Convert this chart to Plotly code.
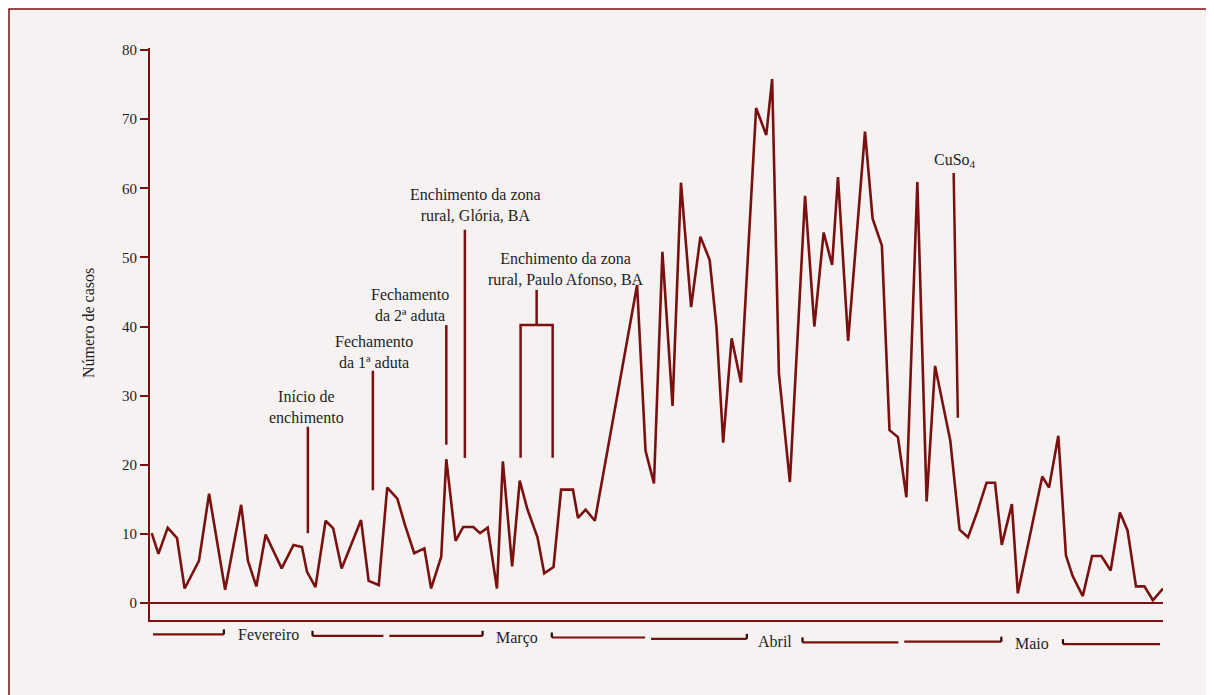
import plotly.graph_objects as go

# ---------------- data ----------------
# day counted from 1 February (0) to 31 May (120)
days = [0.2, 1.0, 2.1, 3.2, 4.1, 5.8, 7.0, 8.9, 10.8, 11.6, 12.6, 13.7, 15.6, 17.0, 18.0,
        18.6, 19.6, 20.8, 21.7, 22.7, 25.0, 25.9, 27.1, 28.1, 29.3, 30.2, 31.3, 32.5, 33.3,
        34.5, 35.1, 36.2, 37.1, 38.3, 39.1, 40.0, 41.1, 41.8, 42.9, 43.8, 44.7, 45.9, 46.7,
        47.8, 48.7, 50.1, 50.7, 51.6, 52.7, 57.7, 58.7, 59.7, 60.7, 61.9, 62.9, 64.1, 65.2,
        66.3, 67.1, 67.9, 68.9, 70.0, 71.8, 73.0, 73.7, 74.5, 75.8, 77.6, 78.7, 79.8, 80.8,
        81.5, 82.7, 84.7, 85.6, 86.7, 87.6, 88.6, 89.6, 90.9, 92.0, 93.0, 94.8, 95.9, 96.9,
        98.0, 99.1, 100.1, 100.9, 102.1, 102.8, 105.7, 106.5, 107.6, 108.5, 109.3, 110.5,
        111.6, 112.7, 113.8, 114.9, 115.8, 116.8, 117.8, 118.8, 120.0]
cases = [10.1, 7.1, 10.9, 9.4, 2.1, 6.1, 15.8, 1.9, 14.2, 6.1, 2.4, 9.9, 5.0, 8.4, 8.1,
         4.5, 2.3, 11.9, 10.8, 5.0, 12.0, 3.2, 2.6, 16.7, 15.1, 11.3, 7.2, 7.9, 2.1,
         6.7, 20.8, 9.0, 11.0, 11.0, 10.1, 10.9, 2.1, 20.5, 5.3, 17.7, 13.6, 9.5, 4.3,
         5.2, 16.4, 16.4, 12.3, 13.5, 11.9, 46.0, 22.0, 17.3, 50.8, 28.5, 60.8, 42.8, 53.0,
         49.6, 40.0, 23.2, 38.3, 31.9, 71.6, 67.7, 75.8, 33.2, 17.5, 58.9, 40.0, 53.6, 48.9,
         61.6, 37.9, 68.2, 55.6, 51.7, 25.0, 24.0, 15.3, 60.9, 14.7, 34.3, 23.5, 10.6, 9.5,
         13.2, 17.4, 17.4, 8.4, 14.3, 1.4, 18.3, 16.7, 24.2, 6.9, 3.9, 1.0,
         6.8, 6.8, 4.7, 13.1, 10.5, 2.4, 2.4, 0.4, 2.1]

y_ticks = [0, 10, 20, 30, 40, 50, 60, 70, 80]

months = ["Fevereiro", "Março", "Abril", "Maio"]
month_start = [0, 28, 59, 89]
month_end = [28, 59, 89, 120]

# events: label, label position (day, cases), marker line (day0, y0, day1, y1)
event_labels = ["Início de<br>enchimento",
                "Fechamento<br>da 1ª aduta",
                "Fechamento<br>da 2ª aduta",
                "Enchimento da zona<br>rural, Glória, BA",
                "Enchimento da zona<br>rural, Paulo Afonso, BA",
                "CuSo<sub>4</sub>"]
event_label_x = [18.5, 26.5, 30.8, 38.6, 49.3, 95.4]
event_label_y = [28.3, 36.3, 43.1, 57.6, 48.3, 64.0]
event_line_x0 = [18.7, 26.4, 35.1, 37.3, None, 95.2]
event_line_x1 = [18.7, 26.4, 35.1, 37.3, None, 95.7]
event_line_y0 = [25.5, 33.6, 40.2, 54.0, None, 62.2]
event_line_y1 = [10.1, 16.3, 22.9, 21.0, None, 26.8]
# Paulo Afonso bracket
bracket_stem_x = 45.8
bracket_left_x = 43.9
bracket_right_x = 47.7
bracket_top = 45.3
bracket_bar = 40.2
bracket_bottom = 21.0

# ---------------- style ----------------
RED = "#7a1010"
BG = "#f6f2f2"
TXT = "#1e1e1e"
FONT = "Liberation Serif"

fig = go.Figure()
fig.add_trace(go.Scatter(x=days, y=cases, mode="lines",
                         line=dict(color=RED, width=2.6), hoverinfo="skip",
                         showlegend=False))

# the page puts the figure 8px from the top-left corner
OFF = 8
W, H = 1214 - OFF, 695 - OFF
PX0, PY1 = 150, 620          # plot area left / bottom (page pixels)
PW, PH = 1013, 572
ML, MT = PX0 - OFF, PY1 - PH - OFF
MR, MB = W - ML - PW, H - MT - PH


def xp(px):
    return (px - PX0) / PW


def yp(py):
    return (PY1 - py) / PH


shapes = []
# outer frame with background
shapes.append(dict(type="rect", xref="paper", yref="paper",
                   x0=xp(9), x1=xp(1211), y0=yp(702), y1=yp(9),
                   line=dict(color=RED, width=1.5), fillcolor=BG, layer="below"))

# event marker lines
for x0, x1, y0, y1 in zip(event_line_x0, event_line_x1, event_line_y0, event_line_y1):
    if x0 is None:
        continue
    shapes.append(dict(type="line", xref="x", yref="y", x0=x0, x1=x1, y0=y0, y1=y1,
                       line=dict(color=RED, width=2.5)))
# bracket
shapes.append(dict(type="line", xref="x", yref="y", x0=bracket_stem_x, x1=bracket_stem_x,
                   y0=bracket_top, y1=bracket_bar, line=dict(color=RED, width=2.5)))
shapes.append(dict(type="path", xref="x", yref="y",
                   path=f"M {bracket_left_x},{bracket_bottom} L {bracket_left_x},{bracket_bar} "
                        f"L {bracket_right_x},{bracket_bar} L {bracket_right_x},{bracket_bottom}",
                   line=dict(color=RED, width=2.5)))

# month brackets below the axis
label_gap = [5.25, 4.1, 3.3, 3.65]          # half-gap around the label, days
label_y_px = [634.5, 637.5, 641.5, 643.0]
left_y_px = [634.4, 635.8, 638.9, 641.7]
right_y_px = [635.8, 637.5, 642.4, 644.2]
pad = 0.35
annotations = []
for name, s, e, g, ly, lyl, lyr in zip(months, month_start, month_end, label_gap,
                                       label_y_px, left_y_px, right_y_px):
    c = (s + e) / 2
    a, b = s + pad, c - g
    shapes.append(dict(type="line", xref="x", yref="paper", x0=a, x1=b,
                       y0=yp(lyl), y1=yp(lyl), line=dict(color=RED, width=2.2)))
    shapes.append(dict(type="line", xref="x", yref="paper", x0=b, x1=b,
                       y0=yp(lyl), y1=yp(lyl - 5), line=dict(color="#2a0505", width=2.2)))
    a2, b2 = c + g, e - pad
    shapes.append(dict(type="line", xref="x", yref="paper", x0=a2, x1=b2,
                       y0=yp(lyr), y1=yp(lyr), line=dict(color=RED, width=2.2)))
    shapes.append(dict(type="line", xref="x", yref="paper", x0=a2, x1=a2,
                       y0=yp(lyr), y1=yp(lyr - 5), line=dict(color="#2a0505", width=2.2)))
    annotations.append(dict(text=name, xref="x", yref="paper", x=c, y=yp(ly),
                            showarrow=False, xanchor="center", yanchor="middle",
                            font=dict(family=FONT, size=16, color=TXT)))

for t, x, y in zip(event_labels, event_label_x, event_label_y):
    annotations.append(dict(text=t, xref="x", yref="y", x=x, y=y, showarrow=False,
                            xanchor="center", yanchor="middle", align="center",
                            font=dict(family=FONT, size=16, color=TXT)))

annotations.append(dict(text="Número de casos", xref="paper", yref="paper",
                        x=xp(88), y=yp(323), showarrow=False, textangle=-90,
                        xanchor="center", yanchor="middle",
                        font=dict(family=FONT, size=16, color=TXT)))

fig.update_layout(
    width=W, height=H,
    margin=dict(l=ML, r=MR, t=MT, b=MB, pad=0),
    paper_bgcolor="white",
    plot_bgcolor="rgba(0,0,0,0)",
    shapes=shapes,
    annotations=annotations,
    font=dict(family=FONT, color=TXT),
    xaxis=dict(range=[0, 120], showline=True, linecolor=RED, linewidth=2,
               showgrid=False, zeroline=False, showticklabels=False, ticks="",
               fixedrange=True),
    yaxis=dict(range=[-2.46, 80.29], tickvals=y_ticks, showline=True, linecolor=RED,
               linewidth=2, ticks="outside", ticklen=8, tickwidth=2, tickcolor=RED,
               showgrid=False, zeroline=True, zerolinecolor=RED, zerolinewidth=2.2,
               tickfont=dict(family=FONT, size=15, color=TXT), fixedrange=True),
)

fig.write_html("out.html")
